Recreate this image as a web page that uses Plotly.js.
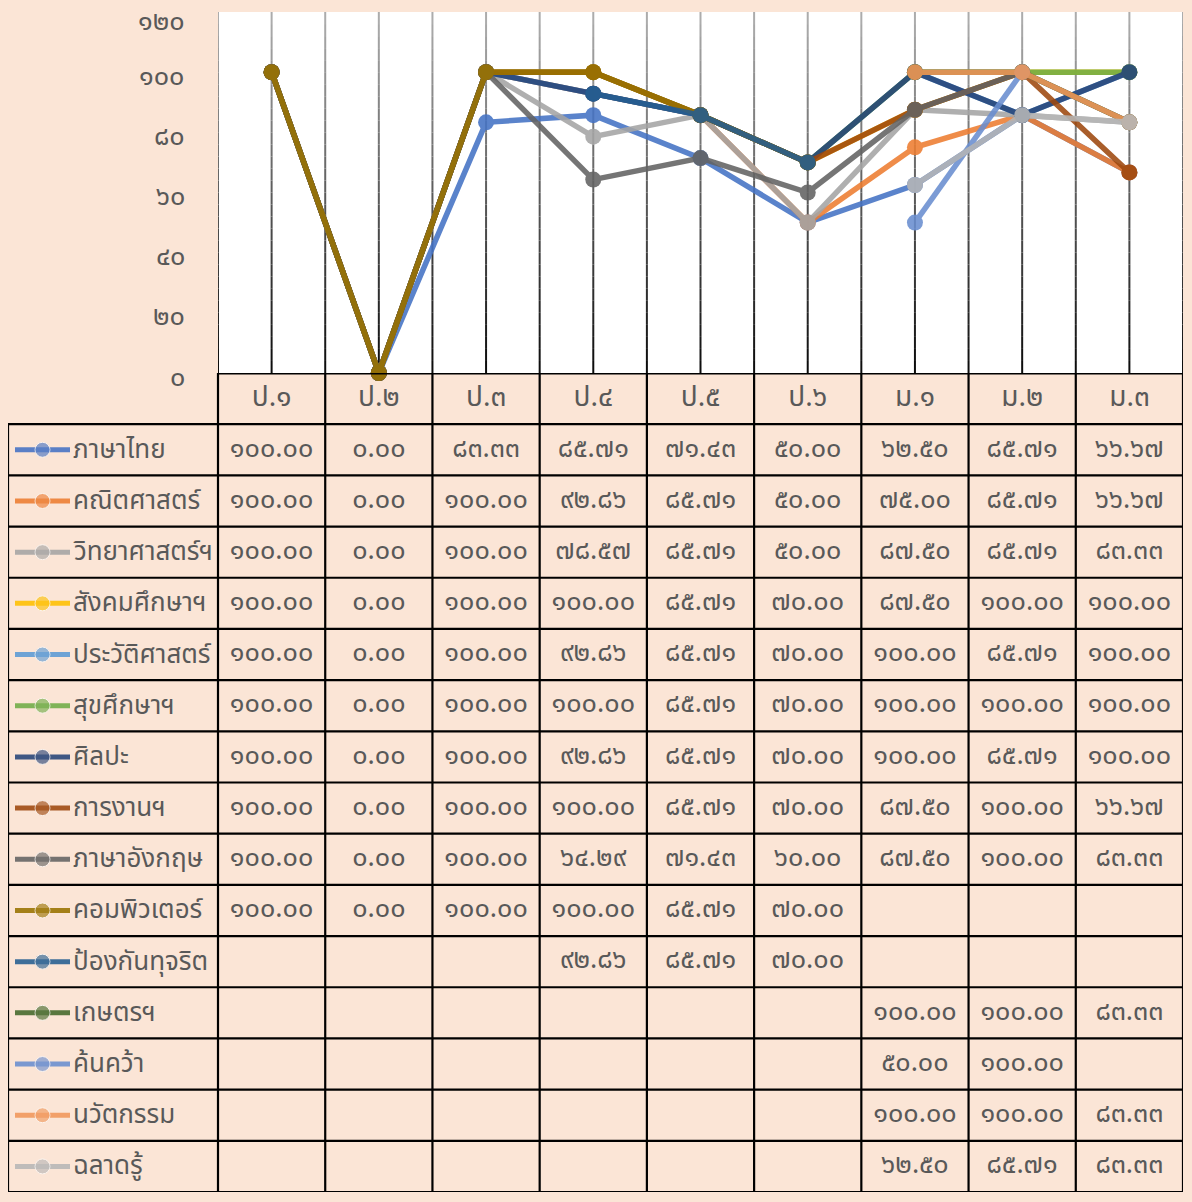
<!DOCTYPE html>
<html>
<head>
<meta charset="utf-8">
<script src="https://cdn.plot.ly/plotly-3.0.1.min.js"></script>
<style>html,body{margin:0;padding:0;background:#FBE5D6;}#chart{width:1192px;height:1202px;}</style>
</head>
<body>
<div id="chart"></div>
<script>
// ---- data ----
const categories = ['ป.๑','ป.๒','ป.๓','ป.๔','ป.๕','ป.๖','ม.๑','ม.๒','ม.๓'];
const seriesNames = ['ภาษาไทย','คณิตศาสตร์','วิทยาศาสตร์ฯ','สังคมศึกษาฯ','ประวัติศาสตร์','สุขศึกษาฯ','ศิลปะ','การงานฯ','ภาษาอังกฤษ','คอมพิวเตอร์','ป้องกันทุจริต','เกษตรฯ','ค้นคว้า','นวัตกรรม','ฉลาดรู้'];
const thaiLang   = [100, 0, 83.33, 85.71, 71.43, 50.00, 62.50, 85.71, 66.67];
const math       = [100, 0, 100, 92.86, 85.71, 50.00, 75.00, 85.71, 66.67];
const science    = [100, 0, 100, 78.57, 85.71, 50.00, 87.50, 85.71, 83.33];
const social     = [100, 0, 100, 100, 85.71, 70.00, 87.50, 100, 100];
const history    = [100, 0, 100, 92.86, 85.71, 70.00, 100, 85.71, 100];
const health     = [100, 0, 100, 100, 85.71, 70.00, 100, 100, 100];
const arts       = [100, 0, 100, 92.86, 85.71, 70.00, 100, 85.71, 100];
const career     = [100, 0, 100, 100, 85.71, 70.00, 87.50, 100, 66.67];
const english    = [100, 0, 100, 64.29, 71.43, 60.00, 87.50, 100, 83.33];
const computer   = [100, 0, 100, 100, 85.71, 70.00, null, null, null];
const antiCorrupt= [null, null, null, 92.86, 85.71, 70.00, null, null, null];
const agriculture= [null, null, null, null, null, null, 100, 100, 83.33];
const research   = [null, null, null, null, null, null, 50.00, 100, null];
const innovation = [null, null, null, null, null, null, 100, 100, 83.33];
const literacy   = [null, null, null, null, null, null, 62.50, 85.71, 83.33];
const seriesValues = [thaiLang, math, science, social, history, health, arts, career, english, computer, antiCorrupt, agriculture, research, innovation, literacy];
const yTickVals = [0, 20, 40, 60, 80, 100, 120];

// ---- styles ----
const colors = ['#4472C4','#ED7D31','#A5A5A5','#FFC000','#5B9BD5','#70AD47','#264478','#9E480E','#636363','#997300','#255E91','#43682B','#698ED0','#F1975A','#B7B7B7'];
const FONT = "'Noto Sans Thai','Noto Sans', 'DejaVu Sans', sans-serif";
const TXT = '#595959';
const BG = '#FBE5D6';
const W = 1192, H = 1202;
const plotL = 218, plotR = 1183, plotT = 12, plotB = 373, tabL = 8, tabB = 1192;
const colW = (plotR - plotL) / categories.length;
const hdrW = (plotL - tabL) / colW;
const x2min = -0.5 - hdrW, x2max = categories.length - 0.5;
const nRows = seriesNames.length + 1;
const px2u = p => x2min + (p - tabL) / colW;

const thaiDigits = '๐๑๒๓๔๕๖๗๘๙';
const th = s => String(s).replace(/\d/g, d => thaiDigits[+d]);

const traces = [];
// chart lines
seriesValues.forEach((vals, i) => {
  traces.push({
    type: 'scatter', mode: 'lines+markers', name: seriesNames[i],
    x: categories, y: vals, xaxis: 'x', yaxis: 'y',
    line: {color: colors[i], width: 5.5}, marker: {color: colors[i], size: 16},
    opacity: 0.88, connectgaps: false, showlegend: false, hoverinfo: 'skip', cliponaxis: false
  });
});
// table: header row category labels
const colIdx = categories.map((_, i) => i);
traces.push({
  type: 'scatter', mode: 'text', x: colIdx, y: categories.map(() => 0),
  text: categories, textposition: 'middle center', xaxis: 'x2', yaxis: 'y2',
  textfont: {family: FONT, size: 28, color: TXT}, showlegend: false, hoverinfo: 'skip'
});
// table: cells and legend keys
seriesValues.forEach((vals, i) => {
  const row = i + 1;
  const xs = [], ys = [], ts = [];
  vals.forEach((v, j) => { if (v !== null) { xs.push(j); ys.push(row); ts.push(th(v.toFixed(2))); } });
  traces.push({
    type: 'scatter', mode: 'text', x: xs, y: ys, text: ts, textposition: 'middle center',
    xaxis: 'x2', yaxis: 'y2', textfont: {family: FONT, size: 27, color: TXT},
    showlegend: false, hoverinfo: 'skip'
  });
  traces.push({
    type: 'scatter', mode: 'lines+markers', x: [px2u(15), px2u(42.5), px2u(70)], y: [row, row, row],
    xaxis: 'x2', yaxis: 'y2', line: {color: colors[i], width: 5},
    marker: {color: colors[i], size: [0, 15, 0]}, opacity: 0.88, showlegend: false, hoverinfo: 'skip'
  });
});

const annotations = seriesNames.map((n, i) => ({
  xref: 'x2', yref: 'y2', x: px2u(71), y: i + 1, xanchor: 'left', yanchor: 'middle',
  text: n, showarrow: false, font: {family: FONT, size: 26, color: TXT}
}));
// y-axis tick labels (Thai numerals)
const yMax = yTickVals[yTickVals.length - 1];
yTickVals.forEach(v => {
  const top = (v === yMax);
  annotations.push({
    xref: 'paper', yref: top ? 'paper' : 'y', x: (plotL - 32) / W, y: top ? 1 : v,
    xanchor: 'right', yanchor: top ? 'top' : 'middle', yshift: top ? 0 : -4,
    borderpad: 0, text: th(v), showarrow: false, font: {family: FONT, size: 27, color: TXT}
  });
});

const shapes = [];
// white plot area background
shapes.push({type: 'rect', xref: 'x domain', yref: 'y domain', x0: 0, x1: 1, y0: 0, y1: 1, fillcolor: '#FFFFFF', line: {width: 0}, layer: 'below'});
// vertical gridlines with grey-to-black gradient (centres and boundaries)
const nSeg = 30;
for (let k = 0; k <= categories.length * 2; k++) {
  const gx = -0.5 + k * 0.5;
  for (let s = 0; s < nSeg; s++) {
    const t = (s + 0.5) / nSeg; // 0 bottom, 1 top
    const g = Math.round(10 + 165 * t);
    const c = 'rgb(' + g + ',' + g + ',' + g + ')';
    shapes.push({type: 'line', xref: 'x', yref: 'y domain', x0: gx, x1: gx, y0: s / nSeg, y1: (s + 1) / nSeg, line: {color: c, width: 2}, layer: 'below'});
  }
}
// table borders
for (let r = 0; r <= nRows; r++) {
  const y = r - 0.5;
  const x0 = (r === 0) ? -0.5 : x2min;
  shapes.push({type: 'line', xref: 'x2', yref: 'y2', x0: x0, x1: x2max, y0: y, y1: y, line: {color: '#000', width: r === 0 ? 3 : 2.2}, layer: 'above'});
}
const vx = [x2min].concat(categories.map((_, i) => i - 0.5)).concat([x2max]);
vx.forEach((x, k) => {
  const y0 = (k === 0) ? 0.5 : -0.5;
  shapes.push({type: 'line', xref: 'x2', yref: 'y2', x0: x, x1: x, y0: y0, y1: nRows - 0.5, line: {color: '#000', width: 2.2}, layer: 'above'});
});

const layout = {
  width: W, height: H, margin: {l: 0, r: 0, t: 0, b: 0},
  paper_bgcolor: BG, plot_bgcolor: BG,
  font: {family: FONT, color: TXT},
  xaxis: {
    domain: [plotL / W, plotR / W], anchor: 'y', type: 'category', categoryarray: categories,
    range: [-0.5, categories.length - 0.5], showgrid: false,
    showticklabels: false, ticks: '', zeroline: false, showline: false
  },
  yaxis: {
    domain: [1 - plotB / H, 1 - plotT / H], anchor: 'x', range: [0, 120],
    tickvals: yTickVals, showticklabels: false, showgrid: false, zeroline: false,
    showline: false, ticks: ''
  },
  xaxis2: {
    domain: [tabL / W, plotR / W], anchor: 'y2', range: [x2min, x2max],
    showgrid: false, zeroline: false, showticklabels: false, ticks: '', showline: false
  },
  yaxis2: {
    domain: [1 - tabB / H, 1 - plotB / H], anchor: 'x2', range: [nRows - 0.5, -0.5],
    showgrid: false, zeroline: false, showticklabels: false, ticks: '', showline: false
  },
  shapes: shapes, annotations: annotations, showlegend: false
};

Plotly.newPlot('chart', traces, layout, {staticPlot: true});
</script>
</body>
</html>
